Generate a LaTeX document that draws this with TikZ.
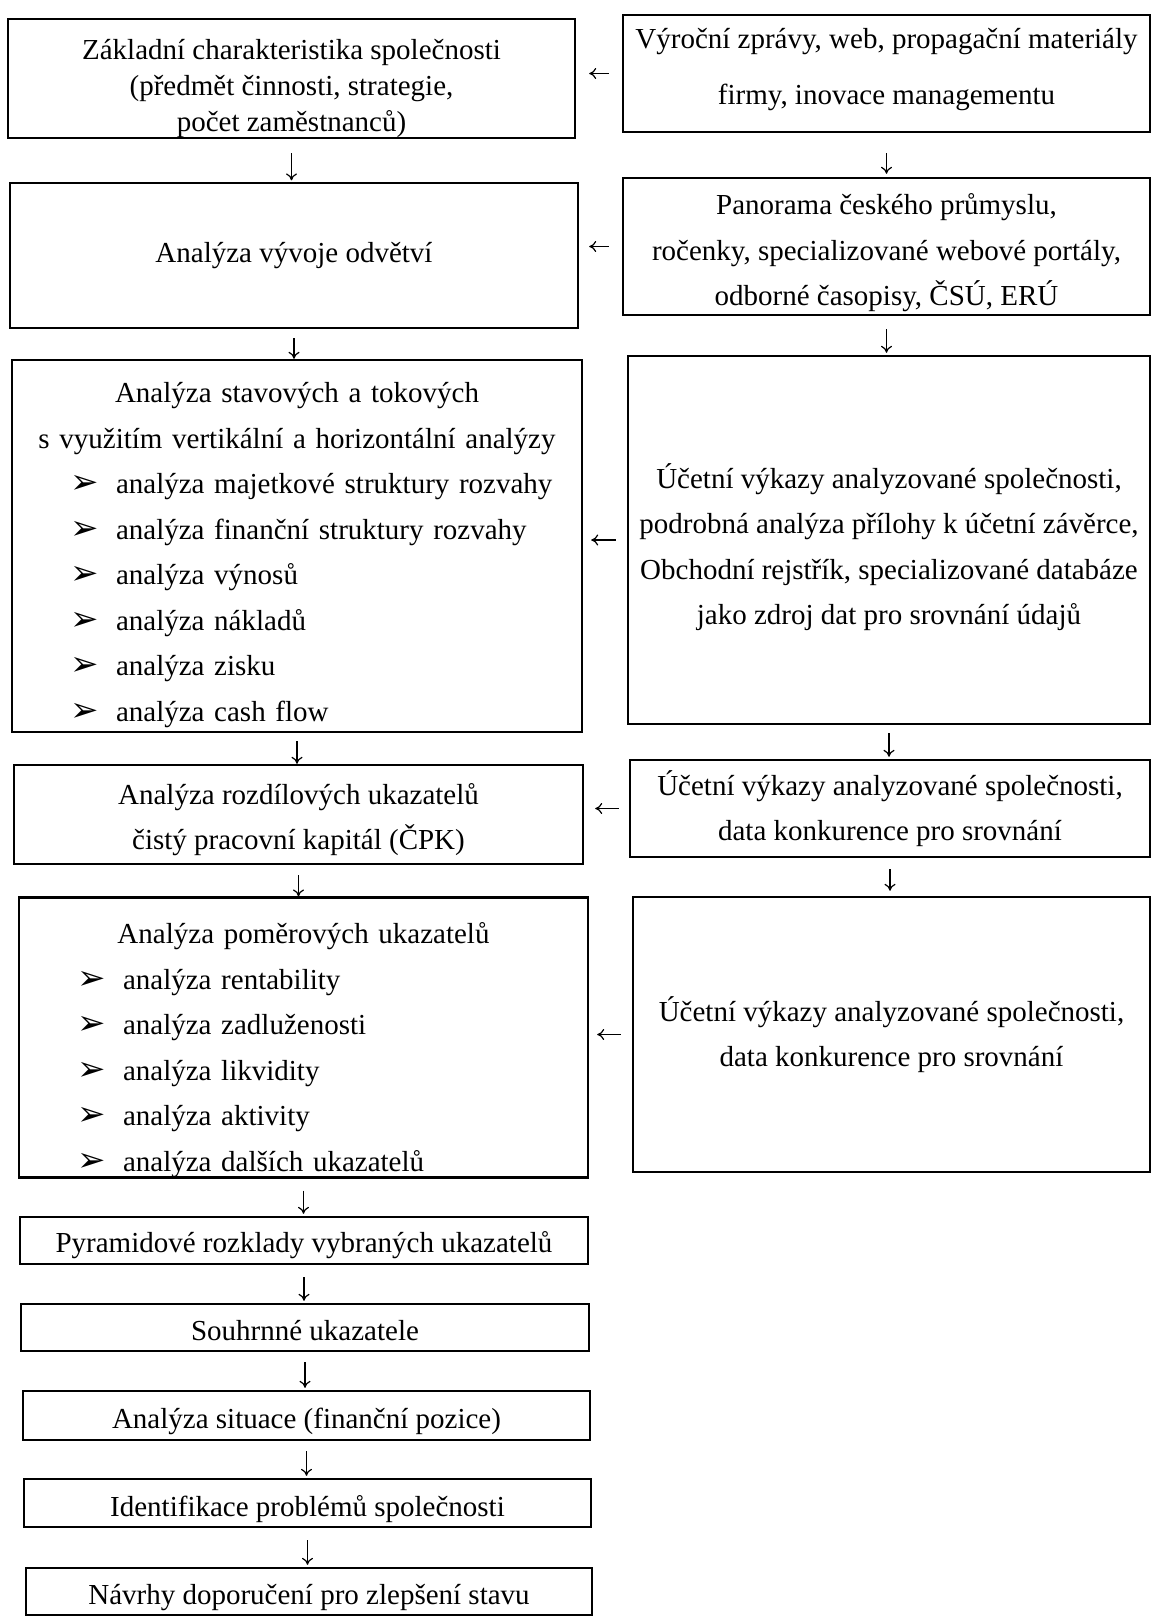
\documentclass[tikz,border=0pt]{standalone}
\usepackage{fontspec}
\setmainfont{Liberation Serif}
\newfontfamily\symfont{DejaVu Sans}
\usetikzlibrary{arrows.meta}
\newcommand{\bul}{{\symfont\fontsize{17}{17}\selectfont\char"27A2}}
\newcommand{\itm}[1]{\makebox[\hsize][l]{\hspace*{29pt}\makebox[23pt][l]{\bul}#1}}
% strut on the first line, pushes the text down a bit
\newcommand{\dn}[1]{\rule{0pt}{#1}}

\begin{document}
\begin{tikzpicture}[x=0.5pt, y=-0.5pt,
  box/.style={draw, line width=1.2pt, inner sep=0pt, align=center,
    font=\fontsize{14.5}{22.75}\selectfont},
  arr/.style={-{To[length=3.5pt,width=5.5pt]}, line width=0.6pt}]
\useasboundingbox (0,0) rectangle (1152,1617);
% left column
\node[box, minimum width=283.5pt, minimum height=59.5pt, font=\fontsize{14.5}{18}\selectfont] (L1) at (291.5,78.5)
  {\dn{20pt}Základní charakteristika společnosti\\(předmět činnosti, strategie,\\počet zaměstnanců)};
\node[box, minimum width=284pt, minimum height=72.5pt] (L2) at (294,255.5) {Analýza vývoje odvětví};
\node[box, text width=285pt, minimum height=186pt] (L3) at (297,546)
  {\dn{19.3pt}Analýza stavových a tokových\\s využitím vertikální a horizontální analýzy\\
   \itm{analýza majetkové struktury rozvahy}\\
   \itm{analýza finanční struktury rozvahy}\\
   \itm{analýza výnosů}\\
   \itm{analýza nákladů}\\
   \itm{analýza zisku}\\
   \itm{analýza cash flow}};
\node[box, minimum width=284.5pt, minimum height=49.5pt] (L4) at (298.5,814.5)
  {\dn{15.5pt}Analýza rozdílových ukazatelů\\čistý pracovní kapitál (ČPK)};
\node[box, text width=284.5pt, minimum height=138.5pt] (L5) at (303.5,1037.5)
  {\dn{23pt}Analýza poměrových ukazatelů\\
   \itm{analýza rentability}\\
   \itm{analýza zadluženosti}\\
   \itm{analýza likvidity}\\
   \itm{analýza aktivity}\\
   \itm{analýza dalších ukazatelů}};
\node[box, minimum width=284pt, minimum height=23.5pt] (L6) at (304,1240.5) {\dn{15pt}Pyramidové rozklady vybraných ukazatelů};
\node[box, minimum width=284pt, minimum height=23.5pt] (L7) at (305,1327.5) {\dn{13pt}Souhrnné ukazatele};
\node[box, minimum width=283.5pt, minimum height=24.5pt] (L8) at (306.5,1415.5) {\dn{16pt}Analýza situace (finanční pozice)};
\node[box, minimum width=283.5pt, minimum height=24pt] (L9) at (307.5,1503) {\dn{17pt}Identifikace problémů společnosti};
\node[box, minimum width=283pt, minimum height=23.5pt] (L10) at (309,1591.5) {\dn{16pt}Návrhy doporučení pro zlepšení stavu};
% right column
\node[box, minimum width=263.5pt, minimum height=58.5pt, font=\fontsize{14.5}{28}\selectfont] (R1) at (886.5,73.5)
  {Výroční zprávy, web, propagační materiály\\firmy, inovace managementu\rule[-7pt]{0pt}{7pt}};
\node[box, minimum width=263.5pt, minimum height=68.5pt] (R2) at (886.5,246.5)
  {\dn{17pt}Panorama českého průmyslu,\\ročenky, specializované webové portály,\\odborné časopisy, ČSÚ, ERÚ};
\node[box, minimum width=261pt, minimum height=184pt] (R3) at (889,540)
  {\dn{19.5pt}Účetní výkazy analyzované společnosti,\\podrobná analýza přílohy k účetní závěrce,\\Obchodní rejstřík, specializované databáze\\jako zdroj dat pro srovnání údajů};
\node[box, minimum width=260pt, minimum height=48.5pt] (R4) at (890,808.5)
  {Účetní výkazy analyzované společnosti,\\data konkurence pro srovnání};
\node[box, minimum width=258.5pt, minimum height=137.5pt] (R5) at (891.5,1034.5)
  {Účetní výkazy analyzované společnosti,\\data konkurence pro srovnání};
% arrows down, left
\draw[arr, shorten <=7pt, shorten >=0.7pt] (L1.south) -- (L1.south |- L2.north);
\draw[arr, shorten <=4.5pt] (L2.south) -- (L2.south |- L3.north);
\draw[arr, shorten <=4pt] (L3.south) -- (L3.south |- L4.north);
\draw[arr, shorten <=5pt] (L4.south) -- (L4.south |- L5.north);
\draw[arr, shorten <=6pt, shorten >=1pt] (L5.south) -- (L5.south |- L6.north);
\draw[arr, shorten <=6pt, shorten >=1pt] (L6.south) -- (L6.south |- L7.north);
\draw[arr, shorten <=5pt, shorten >=1pt] (L7.south) -- (L7.south |- L8.north);
\draw[arr, shorten <=5pt, shorten >=1pt] (L8.south) -- (L8.south |- L9.north);
\draw[arr, shorten <=6pt, shorten >=1pt] (L9.south) -- (L9.south |- L10.north);
% arrows down, right
\draw[arr, shorten <=10pt, shorten >=1.5pt] (R1.south) -- (R1.south |- R2.north);
\draw[arr, shorten <=6.5pt, shorten >=1pt] (R2.south) -- (R2.south |- R3.north);
\draw[arr, shorten <=4pt, shorten >=1pt] (R3.south) -- (R3.south |- R4.north);
\draw[arr, shorten <=5.5pt, shorten >=2.5pt] (R4.south) -- (R4.south |- R5.north);
% arrows from sources
\draw[arr, shorten <=6.5pt, shorten >=6.5pt] (R1.west) -- (R1.west -| L1.east);
\draw[arr, shorten <=6.5pt, shorten >=5pt] (R2.west) -- (R2.west -| L2.east);
\draw[arr, shorten <=5.5pt, shorten >=4pt] (R3.west) -- (R3.west -| L3.east);
\draw[arr, shorten <=5pt, shorten >=5.5pt] (R4.west) -- (R4.west -| L4.east);
\draw[arr, shorten <=5.5pt, shorten >=4pt] (R5.west) -- (R5.west -| L5.east);
\end{tikzpicture}
\end{document}
